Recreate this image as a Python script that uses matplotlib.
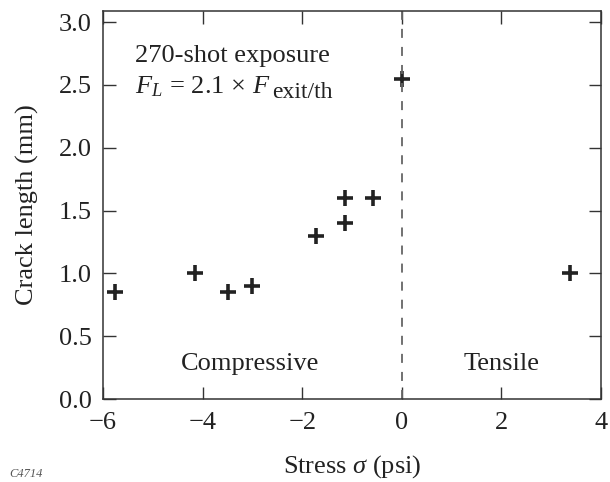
import matplotlib
matplotlib.use("Agg")
import matplotlib.pyplot as plt
from matplotlib.transforms import offset_copy

# Datos
stress = [-5.75, -4.15, -3.5, -3.0, -1.72, -1.15, -1.15, -0.58, 0.0, 3.38]
crack_len = [0.85, 1.0, 0.85, 0.9, 1.30, 1.40, 1.60, 1.60, 2.55, 1.0]

xticks = [-6, -4, -2, 0, 2, 4]
xticklabels = ["\u22126", "\u22124", "\u22122", "0", "2", "4"]
yticks = [0.0, 0.5, 1.0, 1.5, 2.0, 2.5, 3.0]

plt.rcParams["font.family"] = ["Liberation Serif", "DejaVu Serif"]
plt.rcParams["mathtext.fontset"] = "custom"
plt.rcParams["mathtext.rm"] = "Liberation Serif"
plt.rcParams["mathtext.it"] = "Liberation Serif:italic"

fs = 19
col = "#222222"

fig = plt.figure(figsize=(6.10, 4.82), dpi=100)
ax = fig.add_axes([0.1689, 0.172, 0.8165, 0.805])

ax.plot(stress, crack_len, linestyle="none", marker="+", markersize=12,
        markeredgewidth=2.6, color=col)
ax.axvline(0, color="#666666", linestyle=(0, (5, 5)), linewidth=1.3)

ax.set_xlim(-6, 4)
ax.set_ylim(0, 3.087)
ax.set_xticks(xticks)
ax.set_xticklabels(xticklabels)
ax.set_yticks(yticks)
ax.set_yticklabels([f"{v:.1f}" for v in yticks])
ax.tick_params(direction="in", length=9, width=1, top=True, right=True,
               labelsize=fs, colors="#333333", labelcolor=col)
ax.tick_params(axis="x", pad=9)
ax.tick_params(axis="y", pad=8)
for s in ax.spines.values():
    s.set_color("#333333")
    s.set_linewidth(1.1)

ax.set_xlabel(r"Stress $\sigma$ (psi)", fontsize=fs, labelpad=14, color=col)
ax.set_ylabel("Crack length (mm)", fontsize=fs, labelpad=14, color=col)

ax.text(-5.36, 2.68, "270-shot exposure", fontsize=fs, color=col, va="baseline")
t = ax.text(-5.36, 2.43, r"$F_L\, =\, 2.1\, \times\, F$", fontsize=fs,
            color=col, va="baseline")
fig.canvas.draw()
bb = t.get_window_extent()
x_end = ax.transData.inverted().transform((bb.x1, bb.y0))[0]
sub_tr = offset_copy(ax.transData, fig=fig, x=1, y=-4, units="dots")
ax.text(x_end, 2.43, "exit/th", fontsize=17, color=col, va="baseline",
        transform=sub_tr)

ax.text(-3.05, 0.28, "Compressive", fontsize=fs, ha="center", va="center",
        color=col)
ax.text(2.0, 0.28, "Tensile", fontsize=fs, ha="center", va="center",
        color=col)

fig.text(0.016, 0.004, "C4714", fontsize=9, style="italic", color="#555555",
         va="bottom")

fig.savefig("out.png", dpi=100)
